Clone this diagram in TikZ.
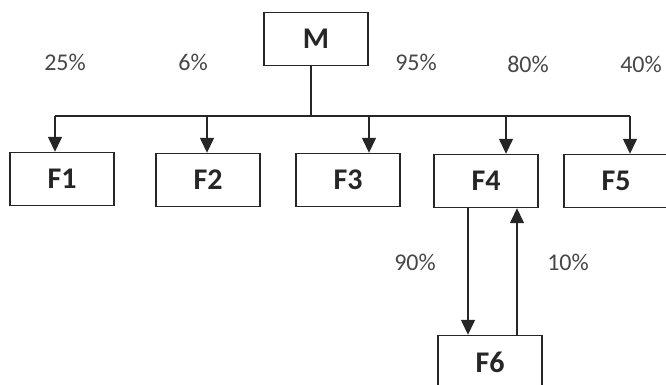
\documentclass[tikz,border=0pt]{standalone}
\usepackage{fontspec}
\setmainfont{Carlito}
\usetikzlibrary{arrows.meta}
\definecolor{ink}{HTML}{262626}
\begin{document}
\begin{tikzpicture}[x=1pt, y=-1pt,
        box/.style={draw=ink, line width=1.4pt, minimum width=104pt, minimum height=53pt,
            inner sep=0pt, font=\fontsize{30}{31}\selectfont\bfseries, text=ink},
        pct/.style={font=\fontsize{24}{26}\selectfont, text=ink!85},
        link/.style={draw=ink, line width=1.4pt},
        arr/.style={link, -{Triangle[width=14pt, length=15pt]}}]
            \useasboundingbox (0,0) rectangle (666,385);

            \node[box] (M) at (316, 39) {M};
            \node[box] (F1) at (62, 179) {F1};
            \node[box] (F2) at (208, 180) {F2};
            \node[box] (F3) at (348, 180) {F3};
            \node[box] (F4) at (486, 181) {F4};
            \node[box] (F5) at (616, 181) {F5};
            \node[box] (F6) at (490, 362) {F6};

            \node[pct] (p1) at (65, 62) {25\%};
            \node[pct] (p2) at (193, 62) {6\%};
            \node[pct] (p3) at (416, 62) {95\%};
            \node[pct] (p4) at (528, 64) {80\%};
            \node[pct] (p5) at (641, 64) {40\%};
            \node[pct] (p6) at (415, 262) {90\%};
            \node[pct] (p7) at (568, 262) {10\%};

            \coordinate (j) at (311, 116);
            \coordinate (a1) at (55, 116);
            \coordinate (a2) at (207, 116);
            \coordinate (a3) at (369, 116);
            \coordinate (a4) at (506, 116);
            \coordinate (a5) at (630, 116);
            \coordinate (d) at (468, 0);
            \coordinate (u) at (517, 0);

            \draw[link] (j |- M.south) -- (j);
            \draw[link] (a1) -- (a5);
            \draw[arr] (a1) -- (a1 |- F1.north);
            \draw[arr] (a2) -- (a2 |- F2.north);
            \draw[arr] (a3) -- (a3 |- F3.north);
            \draw[arr] (a4) -- (a4 |- F4.north);
            \draw[arr] (a5) -- (a5 |- F5.north);
            \draw[arr] (d |- F4.south) -- (d |- F6.north);
            \draw[arr] (u |- F6.north) -- (u |- F4.south);
        \end{tikzpicture}
\end{document}
